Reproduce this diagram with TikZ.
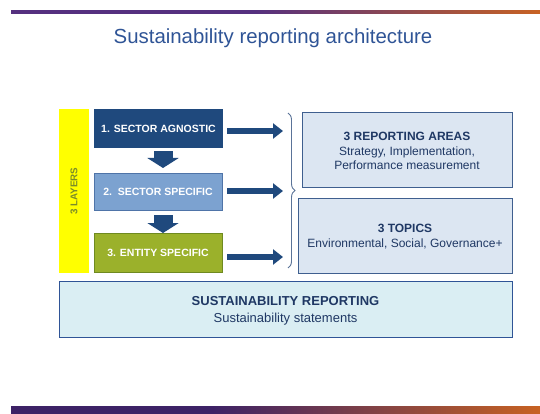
\documentclass[tikz,border=0pt]{standalone}
\usepackage{fontspec}
\setmainfont{Liberation Sans}
\usetikzlibrary{arrows.meta,decorations.pathreplacing}
\definecolor{navy}{HTML}{1F497D}
\definecolor{txtnavy}{HTML}{1F3864}
\definecolor{titleblue}{HTML}{2F5496}
\definecolor{lblue}{HTML}{7CA2D0}
\definecolor{lblueb}{HTML}{4F74A8}
\definecolor{olive}{HTML}{9BB12B}
\definecolor{oliveb}{HTML}{6F8A20}
\definecolor{paleblue}{HTML}{DCE6F2}
\definecolor{palecyan}{HTML}{DAEEF3}
\definecolor{boxborder}{HTML}{3F5F8F}
\definecolor{ylw}{HTML}{FFFF00}
\definecolor{ylwtxt}{HTML}{7A8C2A}
\definecolor{purp}{HTML}{3D2266}
\definecolor{purptop}{HTML}{55307F}
\definecolor{orng}{HTML}{CC6420}
\definecolor{bracecol}{HTML}{5A7398}
\pgfdeclarehorizontalshading{topbar}{100bp}{color(0bp)=(purptop); color(48bp)=(purptop); color(76bp)=(orng); color(100bp)=(orng)}
\pgfdeclarehorizontalshading{botbar}{100bp}{color(0bp)=(purp); color(44bp)=(purp); color(76bp)=(orng); color(100bp)=(orng)}
\begin{document}
\begin{tikzpicture}[x=1pt,y=-1pt,
  layerbox/.style={rectangle, inner sep=0pt, font=\fontsize{10.5}{12}\selectfont\bfseries, text=white},
  infobox/.style={rectangle, draw=boxborder, line width=0.9pt, fill=paleblue, inner sep=0pt},
  infotext/.style={align=center, text=txtnavy, inner sep=0pt},
  rarrow/.style={draw=navy, line width=6.5pt, -{Triangle[width=15pt,length=10pt]}},
  darrow/.style={draw=navy, line width=19pt, -{Triangle[width=31pt,length=10pt]}}]
\useasboundingbox (0,0) rectangle (540,414);
% decorative bars
\shade[shading=topbar] (11,11) rectangle (540,14);
\shade[shading=botbar] (11,406) rectangle (540,414);
% title
\node[text=titleblue, font=\fontsize{20.4}{24}\selectfont] (title) at (273,38) {Sustainability reporting architecture};
% yellow layer bar
\node[rectangle, fill=ylw, minimum width=30pt, minimum height=164pt, inner sep=0pt] (layers) at (74,191) {};
\node[rotate=90, text=ylwtxt, font=\fontsize{9.8}{11}\selectfont\bfseries] (layerstxt) at (layers.center) {3 LAYERS};
% layer boxes
\node[layerbox, fill=navy, minimum width=129pt, minimum height=39pt] (b1) at (158.5,128.5) {1. SECTOR AGNOSTIC};
\node[layerbox, fill=lblue, draw=lblueb, line width=0.6pt, minimum width=128pt, minimum height=37pt] (b2) at (158,191.5) {2.\ \ SECTOR SPECIFIC};
\node[layerbox, fill=olive, draw=oliveb, line width=0.6pt, minimum width=128pt, minimum height=39pt] (b3) at (158,252.5) {3. ENTITY SPECIFIC};
% down arrows
\coordinate (d1s) at (163,151);
\coordinate (d1e) at (163,168);
\coordinate (d2s) at (163,216);
\coordinate (d2e) at (163,233);
\draw[darrow] (b1.south -| d1s) ++(0,3) -- (d1e);
\draw[darrow] (b2.south -| d2s) ++(0,5) -- (d2e);
% right arrows
\coordinate (t1) at (283,131);
\coordinate (t2) at (283,191);
\coordinate (t3) at (283,257);
\draw[rarrow] (b1.east |- t1) ++(4,0) -- (t1);
\draw[rarrow] (b2.east |- t2) ++(5,0) -- (t2);
\draw[rarrow] (b3.east |- t3) ++(5,0) -- (t3);
% brace
\coordinate (bt) at (288,113);
\coordinate (bb) at (288,268);
\draw[bracecol, line width=0.9pt, decorate, decoration={brace, amplitude=7pt, aspect=0.5}] (bt) -- (bb);
% right info boxes
\node[infobox, minimum width=210pt, minimum height=75pt] (r1) at (407,149.5) {};
\node[infotext, font=\fontsize{12}{14.5}\selectfont, yshift=-1.5pt] (r1t) at (r1.center)
  {\textbf{3 REPORTING AREAS}\\ Strategy, Implementation,\\ Performance measurement};
\node[infobox, minimum width=214pt, minimum height=75pt] (r2) at (405,235.5) {};
\node[infotext, font=\fontsize{12}{15}\selectfont, yshift=-1.5pt] (r2t) at (r2.center)
  {\textbf{3 TOPICS}\\ Environmental, Social, Governance+};
% bottom box
\node[infobox, fill=palecyan, draw=titleblue, minimum width=453pt, minimum height=56pt] (bot) at (285.5,309) {};
\node[infotext, font=\fontsize{13}{16.5}\selectfont, yshift=-2pt] (bott) at (bot.center)
  {\textbf{SUSTAINABILITY REPORTING}\\ Sustainability statements};
\end{tikzpicture}
\end{document}
